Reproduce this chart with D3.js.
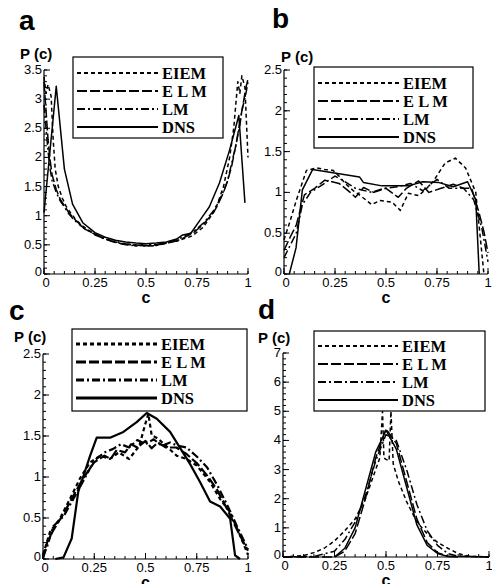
<!DOCTYPE html>
<html>
<head>
<meta charset="utf-8">
<script src="https://cdn.jsdelivr.net/npm/d3@7"></script>
<style>
  body { margin: 0; background: #fff; }
  svg { display: block; }
</style>
</head>
<body>
<div id="chart"></div>
<script>
;(function () {

    // ---- data ----
    var seriesNames = ['EIEM', 'E L M', 'LM', 'DNS'];
    var xTicks = [0, 0.25, 0.5, 0.75, 1];
    var xTickLabels = ['0', '0.25', '0.5', '0.75', '1'];

    var aYTicks = [0, 0.5, 1, 1.5, 2, 2.5, 3, 3.5];
    var aYTickLabels = ['0', '0.5', '1', '1.5', '2', '2.5', '3', '3.5'];
    var bYTicks = [0, 0.5, 1, 1.5, 2, 2.5];
    var bYTickLabels = ['0', '0.5', '1', '1.5', '2', '2.5'];
    var cYTicks = [0, 0.5, 1, 1.5, 2, 2.5];
    var cYTickLabels = ['0', '0.5', '1', '1.5', '2', '2.5'];
    var dYTicks = [0, 1, 2, 3, 4, 5, 6, 7];
    var dYTickLabels = ['0', '1', '2', '3', '4', '5', '6', '7'];

    // panel a
    var aEIEM = [[0,3.38],[0.01,3.1],[0.02,3.25],[0.035,3.05],[0.045,2.3],[0.055,1.8],[0.07,1.5],[0.09,1.3],
        [0.11,1.15],[0.13,1.05],[0.15,0.96],[0.18,0.85],[0.21,0.77],[0.25,0.69],[0.28,0.63],[0.3,0.6],[0.33,0.57],
        [0.35,0.55],[0.38,0.52],[0.4,0.51],[0.43,0.5],[0.45,0.48],[0.48,0.49],[0.5,0.47],[0.53,0.5],[0.55,0.49],
        [0.58,0.52],[0.6,0.52],[0.63,0.56],[0.65,0.56],[0.68,0.6],[0.7,0.62],[0.73,0.66],[0.75,0.72],[0.78,0.8],
        [0.8,0.9],[0.83,1.05],[0.85,1.2],[0.88,1.5],[0.91,2.0],[0.93,2.5],[0.95,3.3],[0.96,3.1],[0.97,3.4],
        [0.985,3.2],[1,2.0]];
    var aELM = [[0,3.3],[0.01,2.8],[0.02,2.3],[0.03,1.95],[0.04,1.7],[0.06,1.45],[0.08,1.28],[0.1,1.17],
        [0.12,1.06],[0.15,0.94],[0.18,0.84],[0.2,0.77],[0.23,0.72],[0.25,0.67],[0.28,0.63],[0.3,0.6],[0.33,0.56],
        [0.35,0.54],[0.38,0.52],[0.4,0.5],[0.43,0.49],[0.45,0.5],[0.48,0.48],[0.5,0.49],[0.53,0.48],[0.55,0.5],
        [0.58,0.51],[0.6,0.53],[0.63,0.55],[0.65,0.57],[0.68,0.61],[0.7,0.65],[0.73,0.7],[0.75,0.76],[0.78,0.85],
        [0.8,0.93],[0.83,1.05],[0.85,1.17],[0.88,1.4],[0.9,1.6],[0.92,1.85],[0.94,2.2],[0.96,2.6],[0.98,3.0],
        [0.99,3.2],[1,3.35]];
    var aLM = [[0,2.9],[0.01,2.5],[0.02,2.1],[0.03,1.8],[0.04,1.6],[0.06,1.4],[0.08,1.25],[0.1,1.15],
        [0.12,1.04],[0.15,0.92],[0.18,0.83],[0.2,0.78],[0.22,0.74],[0.25,0.68],[0.28,0.64],[0.3,0.61],[0.33,0.57],
        [0.35,0.56],[0.38,0.53],[0.4,0.52],[0.43,0.51],[0.45,0.49],[0.48,0.5],[0.5,0.49],[0.53,0.51],[0.55,0.5],
        [0.58,0.53],[0.6,0.54],[0.63,0.57],[0.65,0.59],[0.68,0.63],[0.7,0.67],[0.73,0.72],[0.75,0.78],[0.78,0.87],
        [0.8,0.95],[0.83,1.08],[0.85,1.2],[0.88,1.42],[0.9,1.6],[0.92,1.9],[0.94,2.2],[0.96,2.55],[0.97,2.8],
        [0.99,3.1],[1,3.3]];
    var aDNS = [[0,1.05],[0.06,3.22],[0.1,1.8],[0.14,1.2],[0.19,0.88],[0.25,0.71],[0.3,0.63],[0.35,0.58],
        [0.4,0.55],[0.45,0.53],[0.5,0.52],[0.55,0.53],[0.6,0.55],[0.65,0.6],[0.68,0.67],[0.72,0.7],[0.77,0.95],
        [0.81,1.15],[0.86,1.56],[0.91,2.13],[0.955,2.72],[0.985,1.22]];

    // panel b
    var bEIEM = [[0,0.42],[0.03,0.65],[0.06,0.9],[0.11,1.27],[0.16,1.3],[0.2,1.28],[0.24,1.27],[0.27,1.2],
        [0.3,1.11],[0.34,1.02],[0.38,0.95],[0.43,0.85],[0.47,0.9],[0.53,0.88],[0.57,0.78],[0.61,0.99],
        [0.66,0.96],[0.7,1.05],[0.73,1.13],[0.79,1.36],[0.84,1.42],[0.89,1.3],[0.94,1.0],[0.96,0.5],[0.98,0]];
    var bELM = [[0,0.29],[0.03,0.45],[0.06,0.6],[0.1,0.97],[0.15,1.05],[0.2,1.15],[0.27,1.11],[0.32,1.01],
        [0.35,0.94],[0.39,1.06],[0.44,1.0],[0.5,1.05],[0.56,0.94],[0.6,1.05],[0.66,1.14],[0.71,1.0],[0.77,1.05],
        [0.83,1.1],[0.88,1.05],[0.92,1.05],[0.955,0.76],[0.98,0.52],[1,0.26]];
    var bLM = [[0,0.2],[0.03,0.35],[0.06,0.5],[0.09,0.85],[0.13,1.0],[0.18,1.08],[0.25,1.2],[0.3,1.13],
        [0.35,1.05],[0.43,1.0],[0.49,1.05],[0.56,1.07],[0.62,1.11],[0.68,1.02],[0.75,1.16],[0.81,1.05],
        [0.88,1.05],[0.93,0.91],[0.97,0.56],[1,0.15]];
    var bDNS = [[0.026,0],[0.059,0.32],[0.09,1.03],[0.14,1.28],[0.24,1.24],[0.37,1.19],[0.39,1.12],
        [0.48,1.08],[0.61,1.08],[0.68,1.13],[0.76,1.12],[0.83,1.07],[0.9,1.13],[0.94,0.91],[0.957,0]];

    // panel c
    var cEIEM = [[0,0.05],[0.034,0.33],[0.08,0.48],[0.131,0.73],[0.18,0.98],[0.23,1.18],[0.28,1.26],
        [0.327,1.22],[0.37,1.3],[0.42,1.22],[0.47,1.38],[0.497,1.63],[0.514,1.77],[0.53,1.51],[0.56,1.47],
        [0.6,1.38],[0.652,1.26],[0.7,1.22],[0.75,1.14],[0.815,0.94],[0.864,0.73],[0.913,0.57],[0.961,0.29],
        [1,0.05]];
    var cELM = [[0,0],[0.02,0.2],[0.05,0.35],[0.1,0.55],[0.15,0.78],[0.2,1.0],[0.25,1.18],[0.3,1.26],
        [0.33,1.22],[0.36,1.33],[0.4,1.3],[0.43,1.4],[0.46,1.36],[0.5,1.44],[0.53,1.35],[0.56,1.42],
        [0.6,1.36],[0.65,1.36],[0.7,1.28],[0.75,1.17],[0.8,1.02],[0.85,0.84],[0.9,0.6],[0.95,0.34],[1,0.1]];
    var cLM = [[0,0.03],[0.02,0.15],[0.05,0.4],[0.1,0.52],[0.15,0.74],[0.2,0.97],[0.25,1.2],[0.3,1.3],
        [0.34,1.34],[0.38,1.4],[0.42,1.36],[0.46,1.45],[0.5,1.4],[0.54,1.46],[0.58,1.38],[0.62,1.42],
        [0.66,1.38],[0.7,1.36],[0.75,1.25],[0.8,1.12],[0.85,0.9],[0.9,0.65],[0.95,0.38],[1,0.12]];
    var cDNS = [[0.06,0],[0.1,0.02],[0.14,0.25],[0.172,0.82],[0.23,1.26],[0.262,1.48],[0.327,1.48],
        [0.392,1.55],[0.457,1.67],[0.506,1.78],[0.555,1.71],[0.62,1.55],[0.67,1.35],[0.717,1.16],
        [0.766,0.94],[0.815,0.7],[0.864,0.64],[0.913,0.49],[0.937,0.045],[0.961,0]];

    // panel d
    var dEIEM = [[0,0],[0.1,0.05],[0.15,0.15],[0.2,0.3],[0.25,0.55],[0.3,0.9],[0.35,1.3],[0.4,2.0],
        [0.44,2.8],[0.47,3.4],[0.483,5.0],[0.49,3.4],[0.5,3.35],[0.515,3.3],[0.524,5.0],[0.535,3.2],
        [0.56,2.6],[0.6,1.9],[0.65,1.2],[0.7,0.8],[0.75,0.5],[0.8,0.3],[0.85,0.12],[0.9,0.03],[1,0]];
    var dELM = [[0,0],[0.25,0],[0.3,0.2],[0.35,0.8],[0.4,2.0],[0.45,3.4],[0.5,4.4],[0.55,3.9],[0.6,2.6],
        [0.65,1.3],[0.7,0.5],[0.75,0.15],[0.8,0.03],[1,0]];
    var dLM = [[0,0],[0.15,0.02],[0.25,0.2],[0.3,0.6],[0.35,1.2],[0.4,2.1],[0.45,3.3],[0.5,4.2],[0.55,4.0],
        [0.6,3.0],[0.65,1.8],[0.7,0.9],[0.75,0.4],[0.8,0.12],[0.85,0.03],[1,0]];
    var dDNS = [[0.25,0],[0.3,0.3],[0.35,1.0],[0.4,2.3],[0.45,3.6],[0.5,4.35],[0.55,3.7],[0.6,2.4],
        [0.65,1.1],[0.7,0.4],[0.75,0.12],[0.8,0.02],[0.85,0]];

    var dashes = ['4,3', '10,3', '8,3,2,3', null];

    var svg = d3.select('#chart').append('svg')
        .attr('width', 492)
        .attr('height', 584);

    function panel(opt) {
        var x = d3.scaleLinear().domain([0, 1]).range([opt.x0, opt.x1]);
        var y = d3.scaleLinear().domain([0, opt.yMax]).range([opt.y0, opt.y1]);
        var g = svg.append('g');
        var lw = opt.lw || 1.5;

        // curves
        var line = d3.line().x(function (d) { return x(d[0]); }).y(function (d) { return y(d[1]); });
        opt.series.forEach(function (s, i) {
            g.append('path')
                .attr('d', line(s))
                .attr('fill', 'none')
                .attr('stroke', '#000')
                .attr('stroke-width', lw)
                .attr('stroke-linejoin', 'round')
                .attr('stroke-dasharray', dashes[i]);
        });

        // axes: ticks point inward
        var xMinor = d3.range(0, 1.0001, 0.05);
        var yMinor = d3.range(0, opt.yMax + 1e-6, opt.yMinor);
        g.append('line').attr('x1', opt.x0).attr('x2', opt.x1).attr('y1', opt.y0).attr('y2', opt.y0)
            .attr('stroke', '#000').attr('stroke-width', 1.2);
        g.append('line').attr('x1', opt.x0).attr('x2', opt.x0).attr('y1', opt.y0).attr('y2', opt.y1)
            .attr('stroke', '#000').attr('stroke-width', 1.2);
        g.selectAll('.xm').data(xMinor).enter().append('line')
            .attr('x1', x).attr('x2', x).attr('y1', opt.y0).attr('y2', opt.y0 - 3)
            .attr('stroke', '#000').attr('stroke-width', 1);
        g.selectAll('.xM').data(xTicks).enter().append('line')
            .attr('x1', x).attr('x2', x).attr('y1', opt.y0).attr('y2', opt.y0 - 6)
            .attr('stroke', '#000').attr('stroke-width', 1);
        g.selectAll('.ym').data(yMinor).enter().append('line')
            .attr('y1', y).attr('y2', y).attr('x1', opt.x0).attr('x2', opt.x0 + 3)
            .attr('stroke', '#000').attr('stroke-width', 1);
        g.selectAll('.yM').data(opt.yTicks).enter().append('line')
            .attr('y1', y).attr('y2', y).attr('x1', opt.x0).attr('x2', opt.x0 + 6)
            .attr('stroke', '#000').attr('stroke-width', 1);

        g.selectAll('.xl').data(xTicks).enter().append('text')
            .attr('x', function (d) { return x(d) + (d === 0 ? 2 : 0); })
            .attr('y', opt.y0 + 13)
            .attr('text-anchor', 'middle')
            .style('font', '13px "Liberation Sans", Arial, sans-serif')
            .text(function (d, i) { return xTickLabels[i]; });
        g.selectAll('.yl').data(opt.yTicks).enter().append('text')
            .attr('x', opt.x0 - 2)
            .attr('y', function (d) { return y(d) + (d === 0 ? 2 : 4); })
            .attr('text-anchor', 'end')
            .style('font', '13px "Liberation Sans", Arial, sans-serif')
            .text(function (d, i) { return opt.yTickLabels[i]; });

        // labels
        g.append('text').attr('x', opt.lx).attr('y', opt.ly)
            .style('font', 'bold 28px "Liberation Sans", Arial, sans-serif').text(opt.letter);
        g.append('text').attr('x', opt.px).attr('y', opt.py)
            .style('font', 'bold 15px "Liberation Sans", Arial, sans-serif').text(opt.pLabel);
        g.append('text').attr('x', (opt.x0 + opt.x1) / 2).attr('y', opt.y0 + 29)
            .attr('text-anchor', 'middle')
            .style('font', 'bold 16px "Liberation Sans", Arial, sans-serif').text('c');

        // legend
        var L = opt.legend;
        g.append('rect').attr('x', L.x).attr('y', L.y).attr('width', L.w).attr('height', L.h)
            .attr('fill', '#fff').attr('stroke', '#000').attr('stroke-width', 1.2);
        seriesNames.forEach(function (name, i) {
            var ry = L.y + L.top + i * L.step;
            g.append('line').attr('x1', L.x + 4).attr('x2', L.x + L.lineW).attr('y1', ry).attr('y2', ry)
                .attr('stroke', '#000').attr('stroke-width', L.lw || 1.8)
                .attr('stroke-dasharray', dashes[i]);
            g.append('text').attr('x', L.x + L.lineW + 4).attr('y', ry + 6)
                .style('font', 'bold 16.5px "Liberation Serif", "Times New Roman", serif')
                .text(name);
        });
    }

    panel({
        x0: 44, x1: 248, y0: 274, y1: 70, yMax: 3.5, yMinor: 0.1,
        yTicks: aYTicks, yTickLabels: aYTickLabels,
        series: [aEIEM, aELM, aLM, aDNS],
        letter: 'a', lx: 19, ly: 30, pLabel: 'P (c)', px: 20, py: 59,
        legend: { x: 73, y: 57, w: 150, h: 81, top: 16, step: 18, lineW: 85 }
    });
    panel({
        x0: 284, x1: 488, y0: 274, y1: 70, yMax: 2.5, yMinor: 0.1,
        yTicks: bYTicks, yTickLabels: bYTickLabels,
        series: [bEIEM, bELM, bLM, bDNS],
        letter: 'b', lx: 272, ly: 28, pLabel: 'P (c)', px: 281, py: 62,
        legend: { x: 314, y: 67, w: 159, h: 81, top: 16, step: 18, lineW: 85 }
    });
    panel({
        x0: 43, x1: 248, y0: 559, y1: 354, yMax: 2.5, yMinor: 0.1, lw: 2.2,
        yTicks: cYTicks, yTickLabels: cYTickLabels,
        series: [cEIEM, cELM, cLM, cDNS],
        letter: 'c', lx: 9, ly: 320, pLabel: 'P (c)', px: 14, py: 342,
        legend: { x: 72, y: 329, w: 175, h: 82, top: 15, step: 18, lineW: 85, lw: 2.8 }
    });
    panel({
        x0: 283, x1: 489, y0: 557, y1: 353, yMax: 7, yMinor: 0.2,
        yTicks: dYTicks, yTickLabels: dYTickLabels,
        series: [dEIEM, dELM, dLM, dDNS],
        letter: 'd', lx: 258, ly: 319, pLabel: 'P (c)', px: 258, py: 343,
        legend: { x: 314, y: 331, w: 171, h: 80, top: 15, step: 18, lineW: 84 }
    });

})();
</script>
</body>
</html>
